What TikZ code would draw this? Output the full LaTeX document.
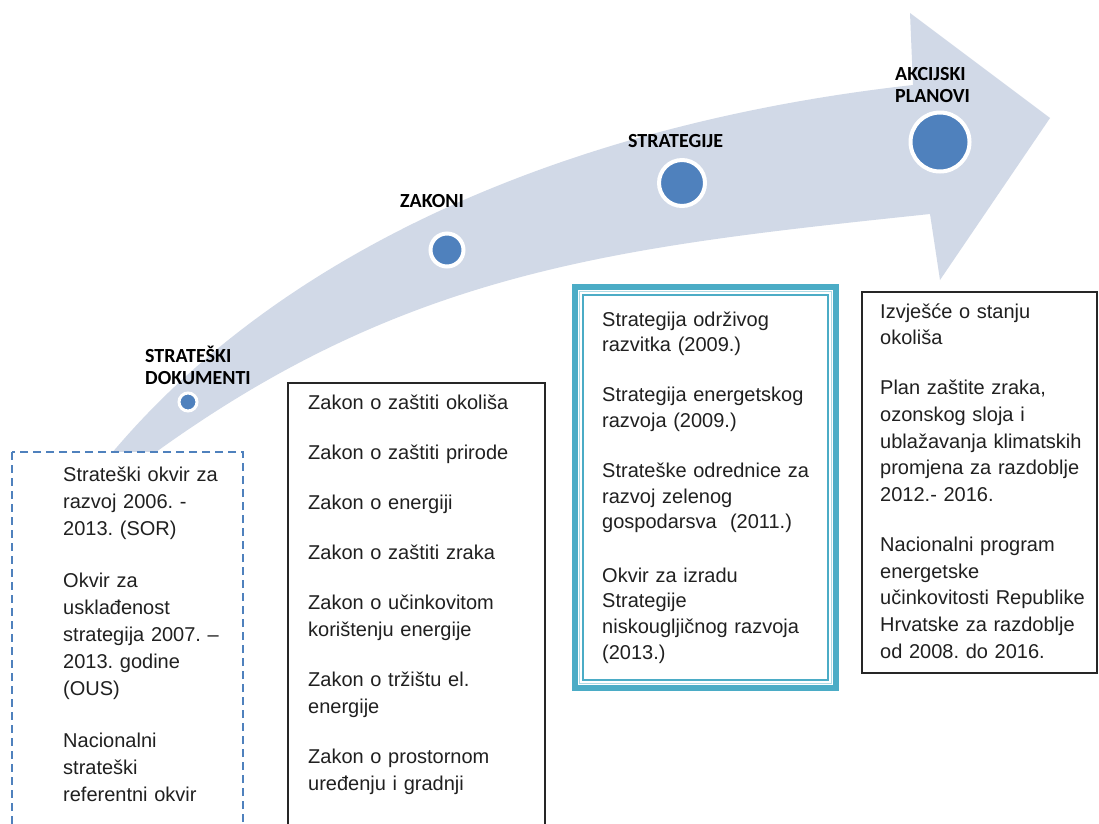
\documentclass[tikz,border=0pt]{standalone}
\usepackage{fontspec}
\setmainfont{Liberation Sans}
\newfontfamily\lblfont{Carlito}
\frenchspacing
\definecolor{arrowfill}{HTML}{D1D9E7}
\definecolor{dotblue}{HTML}{4F81BD}
\definecolor{teal}{HTML}{4BACC6}
\definecolor{txt}{HTML}{202020}
\tikzset{
  lbl/.style={anchor=base west, inner sep=0pt, font=\lblfont\bfseries\fontsize{20}{22}\selectfont, align=left, text=black},
  body/.style={anchor=base west, inner sep=0pt, text width=#1, font=\fontsize{20}{27}\selectfont, text=txt},
  dotring/.style={circle, fill=dotblue, draw=white, line width=4pt, inner sep=0pt},
  plainbox/.style={draw=black!85, line width=1.5pt, fill=white},
}
\begin{document}
\begin{tikzpicture}[x=1pt,y=-1pt]
\useasboundingbox (0,0) rectangle (1099,823);
\clip (0,0) rectangle (1099,823);
\fill[white] (0,0) rectangle (1099,823);
% curved arrow
\fill[arrowfill]
  (91,477) -- (117,447) .. controls (300,234) and (598,120) .. (913,85)
  -- (910,13) -- (1050,118) -- (940,280) -- (930,214)
  .. controls (622,246.5) and (413,269) .. (163,447) -- (128,472)
  -- cycle;
% dots
\node[dotring, minimum size=18pt, line width=3pt] (d1) at (188,402) {};
\node[dotring, minimum size=33pt] (d2) at (447,250) {};
\node[dotring, minimum size=46pt] (d3) at (682,183) {};
\node[dotring, minimum size=59pt] (d4) at (940,142) {};
% labels (anchor at baseline of last line)
\node[lbl] (l1) at (145,384) {STRATEŠKI\\DOKUMENTI};
\node[lbl] (l2) at (400,207) {ZAKONI};
\node[lbl] (l3) at (628,147) {STRATEGIJE};
\node[lbl] (l4) at (895,102) {AKCIJSKI\\PLANOVI};
% boxes
\draw[dotblue, line width=1.5pt, dash pattern=on 8pt off 5pt, fill=white] (12,452) rectangle (243,840);
\draw[plainbox] (288,383) rectangle (545,840);
\draw[plainbox] (862,292) rectangle (1097,673);
\fill[white] (573,285) rectangle (838,690);
\draw[teal, line width=5.5pt] (575,287) rectangle (836,688);
\draw[teal!45, line width=1pt] (579.5,291.5) rectangle (831.5,683.5);
\draw[teal, line width=1.6pt] (583,295) rectangle (828,680);
% texts
\node[body=175pt] (t1) at (63,481) {Strateški okvir za\\razvoj 2006. -\\2013. (SOR)\\[25pt]Okvir za\\usklađenost\\strategija 2007. –\\2013. godine\\(OUS)\\[25pt]Nacionalni\\strateški\\referentni okvir};
\node[body=230pt] (t2) at (308,409) {Zakon o zaštiti okoliša\\[23pt]Zakon o zaštiti prirode\\[23pt]Zakon o energiji\\[23pt]Zakon o zaštiti zraka\\[23pt]Zakon o učinkovitom\\korištenju energije\\[23pt]Zakon o tržištu el.\\energije\\[23pt]Zakon o prostornom\\uređenju i gradnji};
\node[body=225pt, font=\fontsize{20}{25.6}\selectfont] (t3) at (602,326) {Strategija održivog\\razvitka (2009.)\\[24.5pt]Strategija energetskog\\razvoja (2009.)\\[24.5pt]Strateške odrednice za\\razvoj zelenog\\gospodarsva\ \ (2011.)\\[28pt]Okvir za izradu\\Strategije\\niskougljičnog razvoja\\(2013.)};
\node[body=215pt, font=\fontsize{20}{26.7}\selectfont] (t4) at (880,318) {Izvješće o stanju\\okoliša\\[23.3pt]Plan zaštite zraka,\\ozonskog sloja i\\ublažavanja klimatskih\\promjena za razdoblje\\2012.- 2016.\\[23.3pt]Nacionalni program\\energetske\\učinkovitosti Republike\\Hrvatske za razdoblje\\od 2008. do 2016.};
\end{tikzpicture}
\end{document}
